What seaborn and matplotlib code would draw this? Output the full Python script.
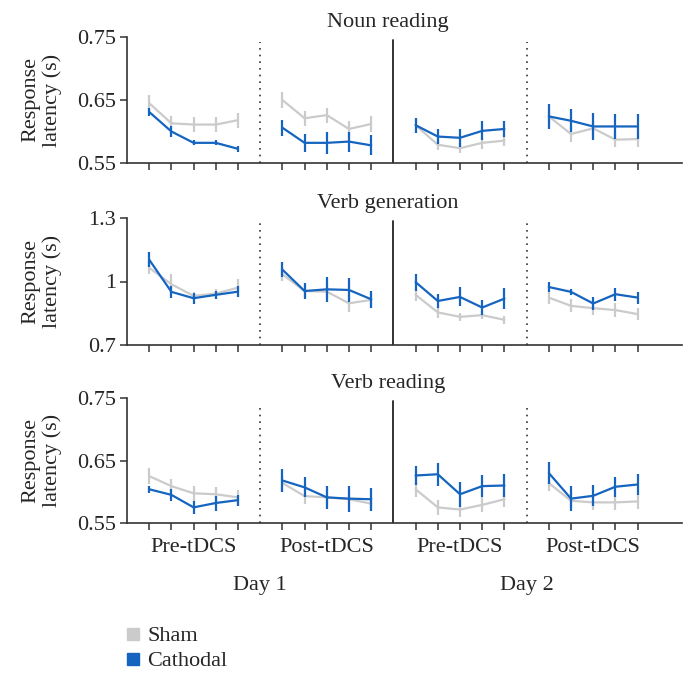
import numpy as np
import pandas as pd
import matplotlib
matplotlib.use("Agg")
import matplotlib.pyplot as plt
import seaborn as sns
from matplotlib.lines import Line2D

# ---------------- data ----------------
blocks = ["Pre-tDCS", "Post-tDCS", "Pre-tDCS", "Post-tDCS"]
days = ["Day 1", "Day 2"]
conditions = ["Sham", "Cathodal"]
panel_titles = ["Noun reading", "Verb generation", "Verb reading"]

noun_sham = [0.645, 0.613, 0.611, 0.611, 0.618, 0.650, 0.621, 0.626, 0.604, 0.612,
             0.610, 0.579, 0.5735, 0.582, 0.5855, 0.624, 0.596, 0.605, 0.587, 0.588]
noun_sham_err = [0.013, 0.012, 0.012, 0.012, 0.012, 0.013, 0.012, 0.012, 0.012, 0.012,
                 0.012, 0.009, 0.008, 0.009, 0.009, 0.012, 0.012, 0.012, 0.012, 0.012]
noun_cath = [0.631, 0.600, 0.582, 0.582, 0.5725, 0.606, 0.582, 0.582, 0.584, 0.578,
             0.610, 0.592, 0.590, 0.601, 0.604, 0.624, 0.617, 0.608, 0.608, 0.608]
noun_cath_err = [0.006, 0.009, 0.004, 0.004, 0.005, 0.013, 0.014, 0.017, 0.016, 0.016,
                 0.012, 0.012, 0.014, 0.015, 0.013, 0.020, 0.018, 0.021, 0.020, 0.020]

vgen_sham = [1.065, 0.987, 0.932, 0.943, 0.971, 1.034, 0.955, 0.952, 0.897, 0.913,
             0.937, 0.854, 0.833, 0.841, 0.819, 0.924, 0.885, 0.874, 0.865, 0.846]
vgen_sham_err = [0.030, 0.050, 0.020, 0.020, 0.040, 0.030, 0.030, 0.030, 0.040, 0.030,
                 0.030, 0.025, 0.020, 0.020, 0.020, 0.030, 0.030, 0.030, 0.035, 0.030]
vgen_cath = [1.103, 0.951, 0.921, 0.937, 0.952, 1.056, 0.955, 0.963, 0.960, 0.916,
             0.997, 0.908, 0.927, 0.877, 0.919, 0.974, 0.951, 0.896, 0.940, 0.924]
vgen_cath_err = [0.035, 0.027, 0.027, 0.020, 0.027, 0.035, 0.040, 0.060, 0.055, 0.040,
                 0.040, 0.035, 0.045, 0.037, 0.050, 0.025, 0.015, 0.033, 0.030, 0.028]

vread_sham = [0.625, 0.609, 0.5975, 0.596, 0.591, 0.614, 0.593, 0.591, 0.588, 0.581,
              0.604, 0.575, 0.5715, 0.579, 0.588, 0.614, 0.5855, 0.583, 0.583, 0.5845]
vread_sham_err = [0.013, 0.012, 0.012, 0.012, 0.012, 0.012, 0.012, 0.012, 0.012, 0.012,
                  0.012, 0.012, 0.012, 0.012, 0.012, 0.012, 0.012, 0.012, 0.012, 0.012]
vread_cath = [0.604, 0.595, 0.575, 0.582, 0.5866, 0.618, 0.607, 0.591, 0.589, 0.588,
              0.626, 0.628, 0.596, 0.609, 0.610, 0.630, 0.589, 0.5935, 0.608, 0.6116]
vread_cath_err = [0.006, 0.010, 0.011, 0.012, 0.009, 0.019, 0.016, 0.019, 0.021, 0.018,
                  0.015, 0.018, 0.020, 0.018, 0.018, 0.018, 0.020, 0.017, 0.016, 0.017]

y_ticks = [[0.55, 0.65, 0.75], [0.7, 1.0, 1.3], [0.55, 0.65, 0.75]]
y_ticklabels = [["0.55", "0.65", "0.75"], ["0.7", "1", "1.3"], ["0.55", "0.65", "0.75"]]

panels = [
    (noun_sham, noun_sham_err, noun_cath, noun_cath_err),
    (vgen_sham, vgen_sham_err, vgen_cath, vgen_cath_err),
    (vread_sham, vread_sham_err, vread_cath, vread_cath_err),
]

# ---------------- style ----------------
sns.set_theme(style="ticks")
plt.rcParams["font.family"] = ["Liberation Serif", "DejaVu Serif"]
FS = 16
colors = {"Sham": "#cbcbcb", "Cathodal": "#1565c0"}
n_per_block = 5
step = n_per_block + 1  # one empty slot between blocks (divider)

def build_frame(sham, sham_err, cath, cath_err):
    rows = []
    for cond, vals, errs in (("Sham", sham, sham_err), ("Cathodal", cath, cath_err)):
        for i, (v, e) in enumerate(zip(vals, errs)):
            b, t = divmod(i, n_per_block)
            rows.append(dict(x=b * step + t, value=v, err=e, condition=cond, block=b))
    return pd.DataFrame(rows)

W, H = 690, 682
fig = plt.figure(figsize=(W / 100, H / 100), dpi=100)

ax_left = 127 / W
ax_width = (682 - 127) / W
panel_px = [(37, 163), (218, 345), (398, 523)]

axes = []
for k, (top, bot) in enumerate(panel_px):
    ax = fig.add_axes([ax_left, 1 - bot / H, ax_width, (bot - top) / H])
    axes.append(ax)
    df = build_frame(*panels[k])
    for z, cond in enumerate(conditions):
        d = df[df.condition == cond]
        ax.vlines(d.x, d.value - d.err, d.value + d.err, color=colors[cond],
                  lw=1.6, zorder=2 + 2 * z)
        sns.lineplot(data=d, x="x", y="value", units="block", estimator=None,
                     color=colors[cond], lw=1.6, ax=ax, zorder=3 + 2 * z,
                     legend=False)
    lo, hi = y_ticks[k][0], y_ticks[k][-1]
    ax.set_ylim(lo, hi)
    ax.set_xlim(-1, 4 * step)
    # dividers
    ax.axvline(step - 1, ymax=0.96, color="#333333", lw=1.2, ls=(0, (1, 3)))
    ax.axvline(3 * step - 1, ymax=0.96, color="#333333", lw=1.2, ls=(0, (1, 3)))
    ax.axvline(2 * step - 1, ymax=0.98, color="#222222", lw=1.3)
    xt = [b * step + t for b in range(4) for t in range(n_per_block)]
    ax.set_xticks(xt)
    ax.set_xticklabels([])
    ax.set_yticks(y_ticks[k])
    ax.set_yticklabels(y_ticklabels[k], fontsize=FS)
    ax.set_xlabel("")
    ax.set_ylabel("Response\nlatency (s)", fontsize=FS, linespacing=1.1)
    ax.yaxis.set_label_coords(-0.118, 0.5)
    ax.tick_params(axis="both", direction="out", length=5, width=1.1,
                   color="#333333", pad=3)
    for s in ("top", "right"):
        ax.spines[s].set_visible(False)
    for s in ("left", "bottom"):
        ax.spines[s].set_color("#333333")
        ax.spines[s].set_linewidth(1.2)
    ax.set_title(panel_titles[k], fontsize=FS, x=0.47, pad=7)

# block and day labels under last panel
ax = axes[-1]
for b, name in enumerate(blocks):
    ax.text(b * step + 2, -0.20, name, transform=ax.get_xaxis_transform(),
            ha="center", va="center", fontsize=FS)
for d, name in enumerate(days):
    ax.text(d * 2 * step + step - 1, -0.50, name, transform=ax.get_xaxis_transform(),
            ha="center", va="center", fontsize=FS)

handles = [Line2D([], [], ls="none", marker="s", markersize=8,
                  markerfacecolor=colors[c], markeredgecolor=colors[c]) for c in conditions]
fig.legend(handles, conditions, loc="upper left", bbox_to_anchor=(116 / W, 1 - 617 / H),
           frameon=False, fontsize=FS, handlelength=0.7, handletextpad=0.3,
           labelspacing=0.2, borderaxespad=0)

fig.savefig("out.png", dpi=100)
